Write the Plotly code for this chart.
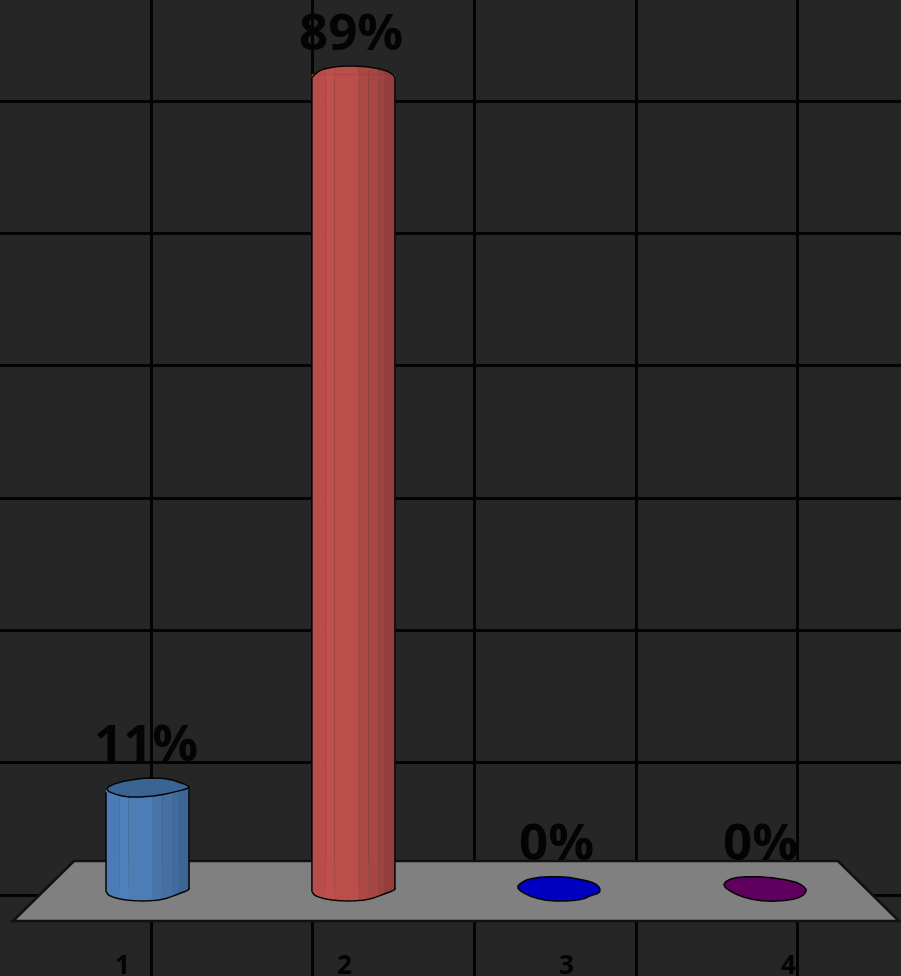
import plotly.graph_objects as go

# data
categories = [1, 2, 3, 4]
values = [11, 89, 0, 0]
value_labels = ["11%", "89%", "0%", "0%"]
tick_labels = ["1", "2", "3", "4"]
series_colors = ["#4F81BD", "#C0504D", "#0000C0", "#5F005F"]
cap_colors = ["#3A6494", "#C0504D", "#0000C0", "#5F005F"]
strip_edges = [0, .164, .272, .564, .68, .804, .88, 1]
strip_shade = [.96, 1.0, .97, .90, .87, .83, .78]

# layout scale
W, H = 901, 976
PX_X = 205.9       # pixels per category
PX_Y = 9.15        # pixels per percent
X_LEFT = 1 - 147.5 / PX_X
Y_BOTTOM = -(976 - 889) / PX_Y
Y_TOP = 889 / PX_Y
BAR_W = 83 / PX_X
BG = "#262626"
GRID = "#030303"


def shade(col, k):
    r, g, b = int(col[1:3], 16), int(col[3:5], 16), int(col[5:7], 16)
    return f"rgb({r*k:.0f},{g*k:.0f},{b*k:.0f})"


def dx(px):
    return X_LEFT + px / PX_X


def dy(px):
    return Y_TOP - px / PX_Y


def path(points, cx=None, cy=None, close=True):
    out = []
    for i, (a, b) in enumerate(points):
        x = cx + a / PX_X if cx is not None else dx(a)
        y = cy - b / PX_Y if cy is not None else dy(b)
        out.append(("M" if i == 0 else "L") + f"{x:.5f},{y:.5f}")
    return " ".join(out) + (" Z" if close else "")


def smooth(points, closed=True, rounds=2):
    pts = list(points)
    for _ in range(rounds):
        new = [] if closed else [pts[0]]
        n = len(pts)
        for i in range(n if closed else n - 1):
            p, q = pts[i], pts[(i + 1) % n]
            new.append((.75 * p[0] + .25 * q[0], .75 * p[1] + .25 * q[1]))
            new.append((.25 * p[0] + .75 * q[0], .25 * p[1] + .75 * q[1]))
        if not closed:
            new.append(pts[-1])
        pts = new
    return pts


# outlines in pixels relative to a bar's anchor (bar spans -41.5..41.5)
bottom_curve = smooth([(-41.5, 0), (-41.5, 3), (-37.5, 7.7), (-19, 11.7), (4.2, 12), (17.5, 10), (30.8, 5), (41.5, 1), (41.5, -1)], closed=False)
dome_curve = smooth([(-41.5, 4), (-41.5, 3), (-37.3, -1.6), (-31, -5.6), (-14, -8.6), (7.7, -8.6), (22.7, -6.6), (36, -3), (41.5, 2), (41.5, 4)], closed=False)
top_cap = smooth([(-41.8, 2), (-37.5, -3), (-20.8, -8), (2.5, -10.7), (20.8, -9.7), (41, -3), (41, 0), (30.8, 2.7),
                  (12.5, 7), (-14.2, 9.3), (-29, 7)], rounds=1)
blob_a = smooth([(-42.3, -1.7), (-39, -5.7), (-30.7, -10), (-15.7, -12.3), (6, -12.3), (24.3, -9), (36, -5.7), (41, -.7),
                 (40, 4.3), (31, 6.7), (24.3, 10), (11, 12), (-9, 12), (-25.7, 8.7), (-37.3, 3.3)], rounds=1)
blob_b = smooth([(-42.3, -3), (-38.3, -9), (-25, -12.3), (0, -12.3), (28.3, -8), (38.3, -3), (41.7, 1.7), (36.7, 7.7),
                 (25, 11), (1.7, 12.7), (-18.3, 9.3), (-31.7, 4.3)], rounds=1)


def interp(curve, a):
    for (x0, y0), (x1, y1) in zip(curve, curve[1:]):
        if x0 < x1 and x0 <= a <= x1:
            return y0 + (y1 - y0) * (a - x0) / (x1 - x0)
    return curve[-1][1]


def strip_poly(curve, f0, f1):
    a0, a1 = -41.5 + 83 * f0, -41.5 + 83 * f1
    inner = [(a, b) for a, b in curve if a0 < a < a1]
    return [(a0, 0), (a0, interp(curve, a0))] + inner + [(a1, interp(curve, a1)), (a1, 0)]


fig = go.Figure()
shapes = []

# floor
shapes.append(dict(type="path", path=path([(74, 861), (838, 861), (899, 921), (13, 921)]),
                   xref="x", yref="y", fillcolor="#808080", line=dict(color="#111111", width=2.5), layer="between"))

# cylinder bars
for i in range(len(strip_shade)):
    f0, f1 = strip_edges[i], strip_edges[i + 1]
    fig.add_trace(go.Bar(
        x=categories, y=values,
        width=(f1 - f0 + .004) * BAR_W,
        offset=(f0 - .5) * BAR_W,
        marker=dict(color=[shade(c, strip_shade[i]) for c in series_colors], line=dict(width=0)),
        hoverinfo="skip", showlegend=False,
    ))

for c, v, col in zip(categories, values, series_colors):
    if v <= 0:
        continue
    for i in range(len(strip_shade)):
        f0, f1 = strip_edges[i], strip_edges[i + 1]
        fill = shade(col, strip_shade[i])
        shapes.append(dict(type="path", path=path(strip_poly(bottom_curve, f0, f1), c, 0), xref="x", yref="y",
                           fillcolor=fill, line=dict(color=fill, width=.5), layer="above"))
        if v > 50:
            shapes.append(dict(type="path", path=path(strip_poly(dome_curve, f0, f1), c, v), xref="x", yref="y",
                               fillcolor=fill, line=dict(color=fill, width=.5), layer="above"))
    # faint seams between strips
    for e in strip_edges[1:-1]:
        a = -41.5 + 83 * e
        shapes.append(dict(type="path", path=path([(a, 0), (a, 0)], c, 0, close=False).split(" L")[0] + " L" +
                           path([(a, 5)], c, v, close=False)[1:], xref="x", yref="y",
                           line=dict(color="rgba(70,70,70,.18)", width=1), layer="above"))
    # sides
    top_r = 4 if v > 50 else -1
    side = path([(-41.5, 0)], c, 0, close=False) + " L" + path([(-41.5, 4)], c, v, close=False)[1:]
    side += " " + path([(41.5, 0)], c, 0, close=False) + " L" + path([(41.5, top_r)], c, v, close=False)[1:]
    shapes.append(dict(type="path", path=side, xref="x", yref="y", line=dict(color="#050505", width=1.5), layer="above"))
    shapes.append(dict(type="path", path=path(bottom_curve, c, 0, close=False), xref="x", yref="y",
                       line=dict(color="#050505", width=1.5), layer="above"))
    if v > 50:
        shapes.append(dict(type="path", path=path(dome_curve, c, v, close=False), xref="x", yref="y",
                           line=dict(color="#050505", width=1.5), layer="above"))
    else:
        shapes.append(dict(type="path", path=path(top_cap, c, v), xref="x", yref="y",
                           fillcolor=cap_colors[categories.index(c)], line=dict(color="#050505", width=1.5), layer="above"))

# flat zero-height cylinders
for c, v, col, blob in zip(categories[2:], values[2:], series_colors[2:], [blob_a, blob_b]):
    shapes.append(dict(type="path", path=path(blob, c, v), xref="x", yref="y",
                       fillcolor=col, line=dict(color="#050505", width=1.5), layer="above"))

# data labels
label_shift = [-1.5, -2, -3, -5]
label_lift = [10, 8, 12, 12]
annotations = [
    dict(x=c, y=v, xref="x", yref="y", text=t, showarrow=False, xanchor="center", yanchor="bottom",
         xshift=s, yshift=l, font=dict(family="Open Sans", size=51, color="#040404", weight=700))
    for c, v, t, s, l in zip(categories, values, value_labels, label_shift, label_lift)
]

# tick labels placed on a second, differently spaced axis
annotations += [
    dict(x=c, y=dy(964), xref="x2", yref="y", text=t, showarrow=False, xanchor="center", yanchor="middle",
         font=dict(family="Open Sans", size=26, color="#040404", weight=700))
    for c, t in zip(categories, tick_labels)
]
fig.add_trace(go.Scatter(x=categories, y=values, xaxis="x2", mode="markers", marker=dict(opacity=0),
                         hoverinfo="skip", showlegend=False))

fig.update_layout(
    width=W, height=H, margin=dict(l=0, r=0, t=0, b=0), autosize=False,
    paper_bgcolor=BG, plot_bgcolor=BG, barmode="overlay", showlegend=False,
    shapes=shapes, annotations=annotations,
    xaxis=dict(range=[X_LEFT, X_LEFT + W / PX_X], tick0=1 + 3.5 / PX_X, dtick=161.7 / PX_X, showgrid=True,
               gridcolor=GRID, gridwidth=3, zeroline=False, showticklabels=False, ticks="", showline=False),
    xaxis2=dict(overlaying="x", side="bottom", anchor="y", range=[1 - 122 / 222, 1 + (W - 122) / 222],
                showticklabels=False, showgrid=False, zeroline=False, ticks="", showline=False),
    yaxis=dict(range=[Y_BOTTOM, Y_TOP], tick0=-0.656, dtick=132.33 / PX_Y, showgrid=True,
               gridcolor=GRID, gridwidth=3, zeroline=False, showticklabels=False, ticks="", showline=False),
)
fig.write_html("out.html", config=dict(displayModeBar=False),
               post_script="document.body.style.margin='0';document.body.style.background='#262626';")
